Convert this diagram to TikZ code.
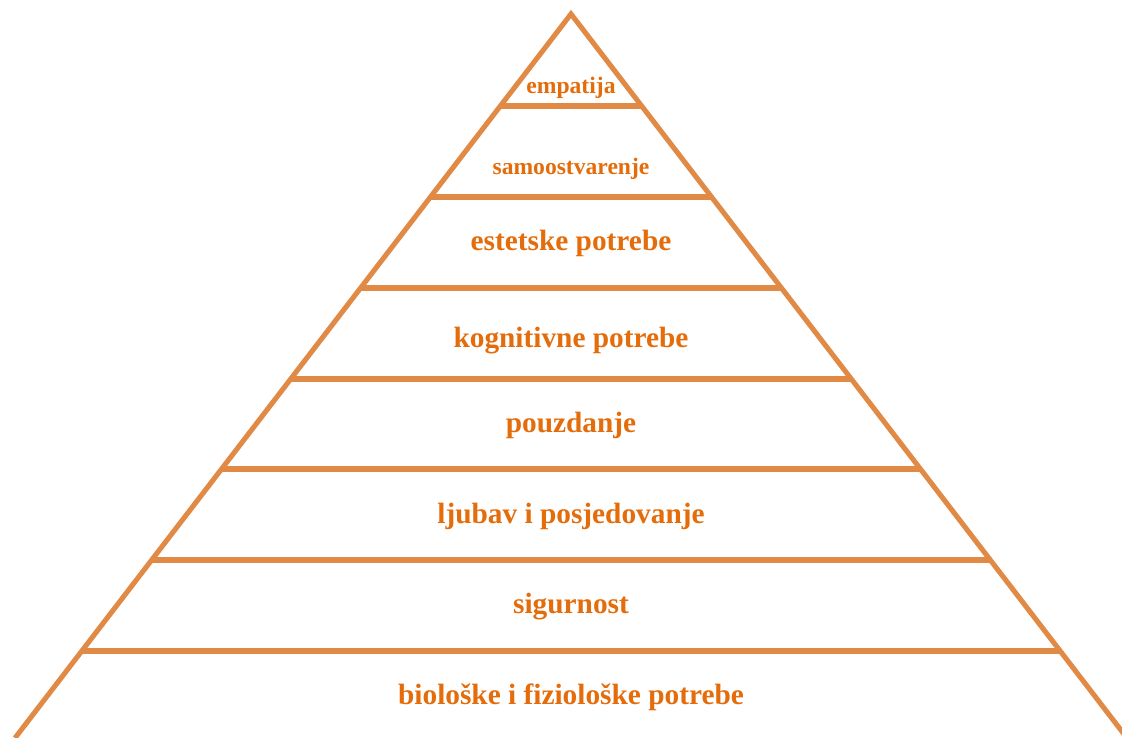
\documentclass[tikz,border=0pt]{standalone}
\usepackage{fontspec}
\setmainfont{Liberation Serif}
\usetikzlibrary{calc}
\definecolor{lineorange}{RGB}{224,138,69}
\definecolor{textorange}{RGB}{228,108,10}
\tikzset{
    tier/.style = {text=textorange, anchor=base, font=\bfseries\fontsize{22}{24}\selectfont},
    small tier/.style = {tier, font=\bfseries\fontsize{17.7}{20}\selectfont},
    edge/.style = {draw=lineorange, line width=3.8pt}
}

\begin{document}
\begin{tikzpicture}[x=0.75pt, y=-0.75pt]
        \useasboundingbox (0,0) rectangle (1122,738);
        \coordinate (apex) at (571,14);
        \coordinate (bl) at (15,738);
        \coordinate (br) at (1127,738);

        \draw [edge] (bl) -- (apex) -- (br);
        \foreach \y [evaluate=\y as \t using (\y-14)/724] in {106,197,288,379,469,560,651}
            \draw [edge] ($(apex)!\t!(bl)$) -- ($(apex)!\t!(br)$);

        \node [small tier] (empatija) at (571,94) {empatija};
        \node [small tier] (samo) at (571,175) {samoostvarenje};
        \node [tier] (estetske) at (571,251) {estetske potrebe};
        \node [tier] (kognitivne) at (571,348) {kognitivne potrebe};
        \node [tier] (pouzdanje) at (571,432) {pouzdanje};
        \node [tier] (ljubav) at (571,523) {ljubav i posjedovanje};
        \node [tier] (sigurnost) at (571,613) {sigurnost};
        \node [tier] (bio) at (571,704) {biološke i fiziološke potrebe};
    \end{tikzpicture}
\end{document}
